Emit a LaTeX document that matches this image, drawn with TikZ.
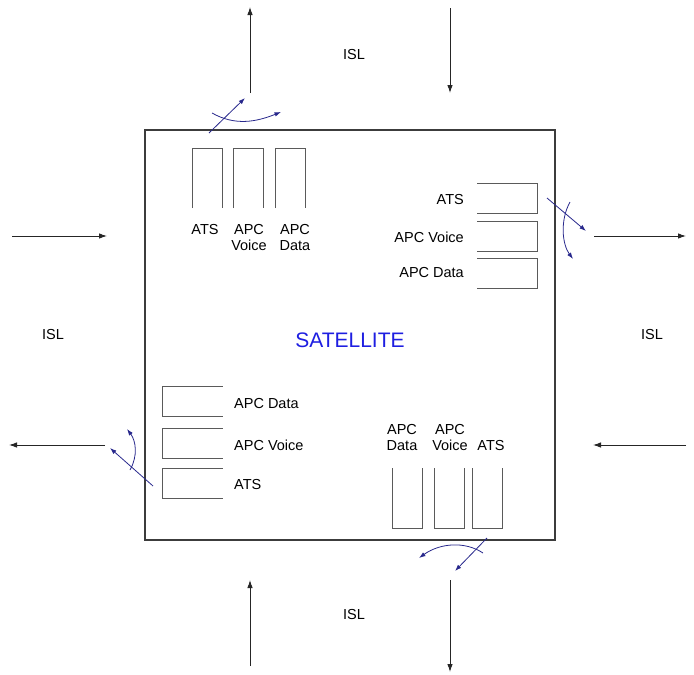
\documentclass[tikz,border=0pt]{standalone}
\usepackage{fontspec}
\setmainfont{Liberation Sans}
\usetikzlibrary{arrows.meta}
\definecolor{framegray}{RGB}{60,60,60}
\definecolor{bufgray}{RGB}{90,90,90}
\definecolor{swnavy}{RGB}{40,40,140}
\definecolor{satblue}{RGB}{30,30,225}
\tikzset{
  txt/.style={inner sep=0pt, font=\fontsize{14.5}{16}\selectfont, align=center},
  buf/.style={inner sep=0pt, outer sep=0pt},
  bufline/.style={draw=bufgray, line width=0.9pt},
  isl/.style={draw=black!85, line width=0.9pt, -{Latex[length=8pt,width=5.5pt]}},
  sw/.style={draw=swnavy, line width=0.8pt, -{Latex[length=6.5pt,width=4.5pt]}}
}
\begin{document}
\begin{tikzpicture}[x=1pt,y=-1pt]
\useasboundingbox (0,0) rectangle (694,675);

% satellite body
\node[draw=framegray, line width=1.6pt, minimum width=410pt, minimum height=410pt, inner sep=0pt] (sat) at (350,335) {};
\node[txt, font=\fontsize{21}{24}\selectfont, text=satblue] (satlabel) at (350,340) {SATELLITE};

% top queues (open at the bottom)
\node[buf, minimum width=30pt, minimum height=60pt] (t1) at (207.5,178) {};
\node[buf, minimum width=30pt, minimum height=60pt] (t2) at (248.5,178) {};
\node[buf, minimum width=30pt, minimum height=60pt] (t3) at (290,178) {};
\foreach \q in {t1,t2,t3}
  \draw[bufline] (\q.south west) |- (\q.north east) -- (\q.south east);
\node[txt] (t1l) at (205,230) {ATS};
\node[txt] (t2l) at (249,238) {APC\\Voice};
\node[txt] (t3l) at (295,238) {APC\\Data};

% right queues (open on the left)
\node[buf, minimum width=60pt, minimum height=30pt] (r1) at (507,198) {};
\node[buf, minimum width=60pt, minimum height=30pt] (r2) at (507,236.5) {};
\node[buf, minimum width=60pt, minimum height=30pt] (r3) at (507,273) {};
\foreach \q in {r1,r2,r3}
  \draw[bufline] (\q.north west) -| (\q.south east) -- (\q.south west);
\node[txt, anchor=east] (r1l) at (464,200) {ATS};
\node[txt, anchor=east] (r2l) at (464,237) {APC Voice};
\node[txt, anchor=east] (r3l) at (464,273) {APC Data};

% lower-left queues (open on the right)
\node[buf, minimum width=60pt, minimum height=30pt] (l1) at (192.5,401) {};
\node[buf, minimum width=60pt, minimum height=30pt] (l2) at (192.5,443) {};
\node[buf, minimum width=60pt, minimum height=30pt] (l3) at (192.5,483) {};
\foreach \q in {l1,l2,l3}
  \draw[bufline] (\q.north east) -| (\q.south west) -- (\q.south east);
\node[txt, anchor=west] (l1l) at (234,404) {APC Data};
\node[txt, anchor=west] (l2l) at (234,445) {APC Voice};
\node[txt, anchor=west] (l3l) at (234,485) {ATS};

% bottom queues (open at the top)
\node[buf, minimum width=30pt, minimum height=60pt] (b1) at (407,498) {};
\node[buf, minimum width=30pt, minimum height=60pt] (b2) at (449,498) {};
\node[buf, minimum width=30pt, minimum height=60pt] (b3) at (487.5,498) {};
\foreach \q in {b1,b2,b3}
  \draw[bufline] (\q.north west) |- (\q.south east) -- (\q.north east);
\node[txt] (b1l) at (402,438) {APC\\Data};
\node[txt] (b2l) at (450,438) {APC\\Voice};
\node[txt] (b3l) at (491,446) {ATS};

% inter-satellite links
\node[txt] (islN) at (354,55) {ISL};
\node[txt] (islW) at (53,335) {ISL};
\node[txt] (islE) at (652,335) {ISL};
\node[txt] (islS) at (354,615) {ISL};

\coordinate (nOutA) at (250,93);  \coordinate (nOutB) at (250,7);
\coordinate (nInA)  at (450,8);   \coordinate (nInB)  at (450,93);
\coordinate (wInA)  at (12,236);  \coordinate (wInB)  at (107,236);
\coordinate (wOutA) at (105,445); \coordinate (wOutB) at (9,445);
\coordinate (eOutA) at (594,236); \coordinate (eOutB) at (686,236);
\coordinate (eInA)  at (686,445); \coordinate (eInB)  at (593,445);
\coordinate (sInA)  at (250,666); \coordinate (sInB)  at (250,580);
\coordinate (sOutA) at (450,580); \coordinate (sOutB) at (450,672);

\draw[isl] (nOutA) -- (nOutB);
\draw[isl] (nInA) -- (nInB);
\draw[isl] (wInA) -- (wInB);
\draw[isl] (wOutA) -- (wOutB);
\draw[isl] (eOutA) -- (eOutB);
\draw[isl] (eInA) -- (eInB);
\draw[isl] (sInA) -- (sInB);
\draw[isl] (sOutA) -- (sOutB);

% switching arrows at each port
\coordinate (nsA) at (209,133); \coordinate (nsB) at (245,98);
\coordinate (naA) at (212,113); \coordinate (naB) at (281,112);
\draw[sw] (nsA) -- (nsB);
\draw[sw] (naA) .. controls (235,126) and (256,122) .. (naB);

\coordinate (esA) at (547,198); \coordinate (esB) at (586,231);
\coordinate (eaA) at (570,202); \coordinate (eaB) at (573,259);
\draw[sw] (esA) -- (esB);
\draw[sw] (eaA) .. controls (560,220) and (562,244) .. (eaB);

\coordinate (wsA) at (153,486); \coordinate (wsB) at (110,448);
\coordinate (waA) at (130,470); \coordinate (waB) at (127,429);
\draw[sw] (wsA) -- (wsB);
\draw[sw] (waA) .. controls (138,456) and (136,441) .. (waB);

\coordinate (ssA) at (487,538); \coordinate (ssB) at (455,571);
\coordinate (saA) at (483,553); \coordinate (saB) at (419,558);
\draw[sw] (ssA) -- (ssB);
\draw[sw] (saA) .. controls (465,541) and (440,543) .. (saB);
\end{tikzpicture}
\end{document}
